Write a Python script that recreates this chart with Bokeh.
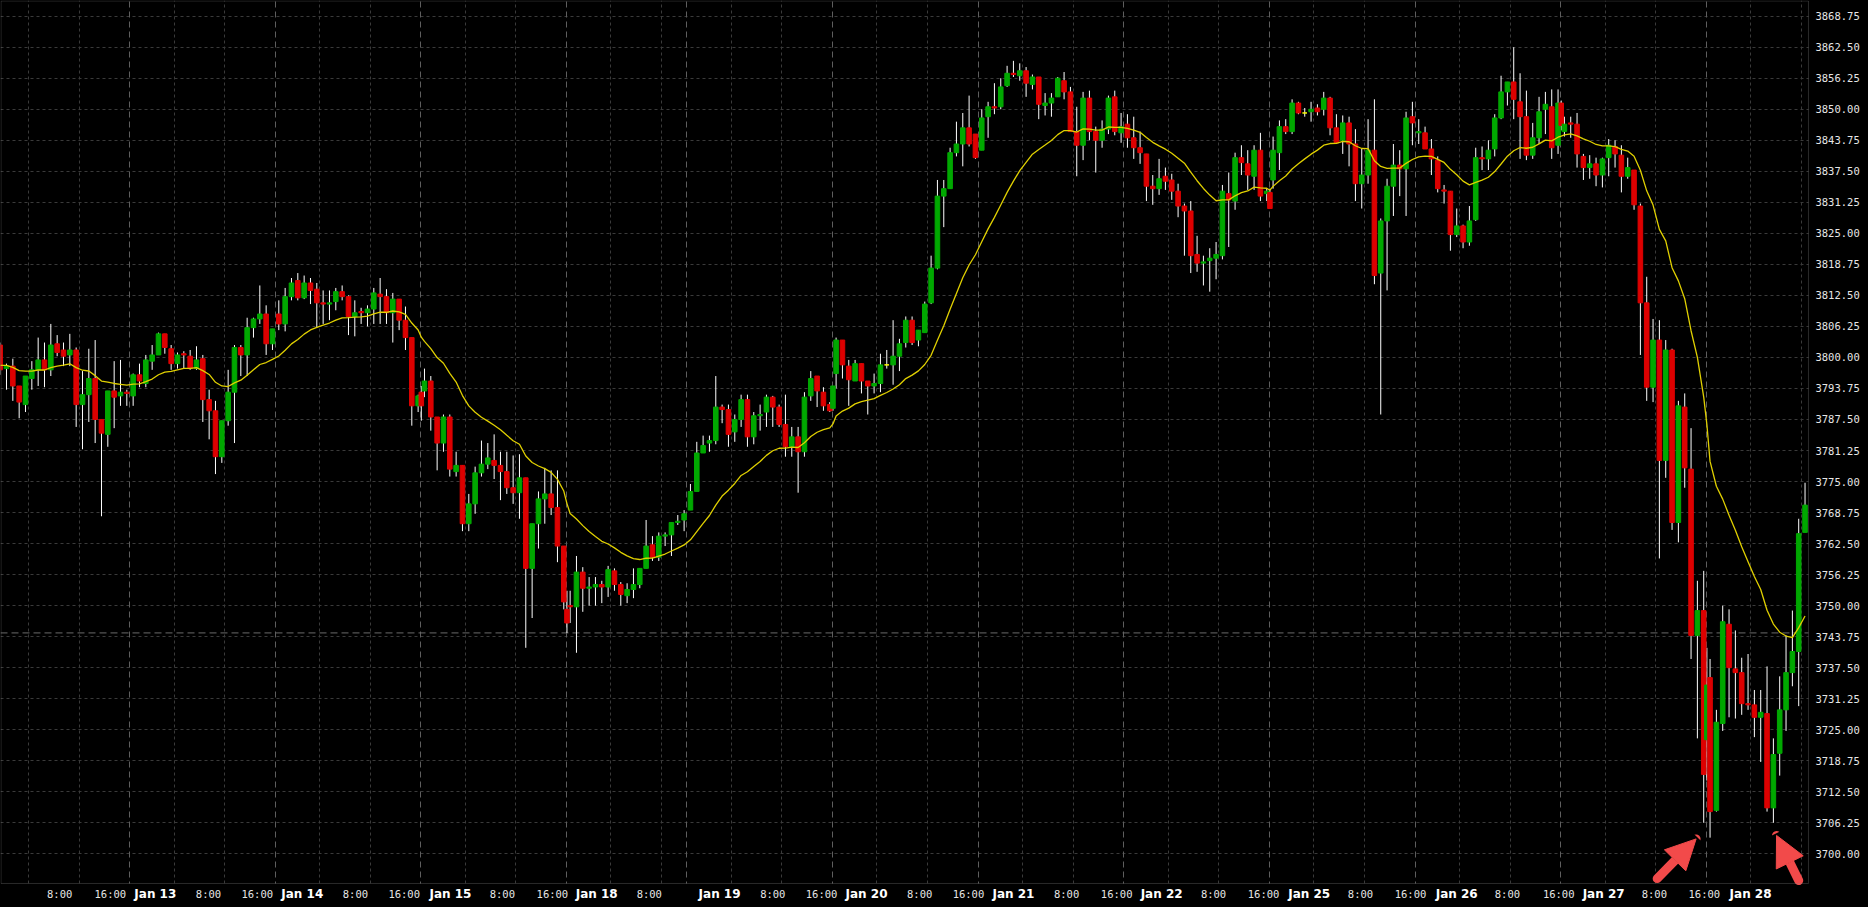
import numpy as np
from bokeh.plotting import figure
from bokeh.models import (ColumnDataSource, Range1d, FixedTicker, Span, LabelSet, Arrow,
                          NormalHead, Grid, BoxAnnotation)
from bokeh.embed import file_html
from bokeh.resources import INLINE
from bokeh.core.properties import value

# ---------------- data (hourly ES bars, slot = bar index on the time axis) -------------
first_slot = -1
bar_open = [
    3802.5, 3797.75, 3798.25, 3794.25, 3790.5, 3795.75, 3797.5, 3799.5, 3797.5, 3802.75,
    3801.5, 3800.5, 3801.5, 3790.5, 3792.5, 3795.75, 3787.5, 3784.5, 3793.25, 3792.25,
    3793.0, 3792.25, 3796.5, 3794.75, 3799.25, 3800.5, 3804.75, 3801.75, 3798.75, 3800.75,
    3800.25, 3797.75, 3799.75, 3791.5, 3789.25, 3780.0, 3787.25, 3793.0, 3802.0, 3800.5,
    3806.0, 3807.75, 3808.75, 3802.75, 3808.75, 3806.75, 3812.25, 3815.5, 3812.0, 3815.0,
    3813.75, 3811.0, 3810.75, 3811.25, 3813.25, 3812.25, 3808.25, 3809.25, 3809.0, 3809.75,
    3812.75, 3812.25, 3809.0, 3811.75, 3807.5, 3804.0, 3790.25, 3793.25, 3795.25, 3788.0,
    3782.75, 3788.0, 3777.0, 3778.25, 3766.5, 3770.5, 3776.75, 3778.5, 3779.25, 3778.25,
    3777.0, 3773.75, 3772.75, 3775.75, 3757.5, 3766.5, 3771.5, 3772.5, 3769.75, 3762.0,
    3750.0, 3749.75, 3756.75, 3753.5, 3753.75, 3754.25, 3753.75, 3757.0, 3754.25, 3752.0,
    3753.25, 3754.25, 3757.5, 3762.25, 3759.75, 3764.0, 3764.25, 3766.75, 3767.25, 3769.25,
    3773.0, 3780.75, 3782.75, 3783.25, 3790.0, 3789.5, 3785.0, 3787.5, 3791.5, 3784.0,
    3788.25, 3789.0, 3792.0, 3790.0, 3786.5, 3782.0, 3784.0, 3781.0, 3792.25, 3796.25,
    3793.0, 3790.5, 3796.75, 3803.5, 3798.25, 3795.25, 3798.75, 3795.25, 3794.25, 3794.75,
    3798.5, 3798.5, 3800.25, 3803.0, 3807.5, 3803.5, 3805.0, 3811.0, 3818.0, 3832.5,
    3834.0, 3841.25, 3843.0, 3846.25, 3845.0, 3841.75, 3848.5, 3850.5, 3850.5, 3854.75,
    3857.25, 3856.75, 3857.75, 3855.0, 3856.5, 3850.75, 3851.25, 3852.5, 3855.75, 3853.5,
    3845.5, 3842.75, 3852.25, 3845.5, 3843.75, 3846.0, 3852.5, 3845.25, 3847.0, 3844.25,
    3842.25, 3841.0, 3834.5, 3834.0, 3836.5, 3835.75, 3833.5, 3830.5, 3829.5, 3820.75,
    3819.0, 3819.5, 3820.0, 3820.5, 3833.0, 3831.5, 3840.25, 3839.0, 3836.5, 3841.75,
    3833.0, 3835.75, 3841.25, 3846.5, 3845.5, 3851.25, 3849.25, 3849.5, 3850.25, 3850.0,
    3852.25, 3846.25, 3843.75, 3847.25, 3843.0, 3835.0, 3836.75, 3841.75, 3817.0, 3827.5,
    3834.5, 3838.75, 3838.0, 3848.5, 3845.25, 3845.25, 3842.0, 3839.75, 3833.75, 3833.5,
    3824.75, 3826.5, 3823.25, 3827.75, 3840.25, 3840.0, 3842.0, 3848.25, 3853.5, 3855.5,
    3851.5, 3848.5, 3840.75, 3844.25, 3850.0, 3850.5, 3842.75, 3845.5, 3847.25, 3847.0,
    3840.5, 3838.25, 3839.0, 3836.75, 3840.25, 3842.5, 3840.75, 3836.5, 3837.75, 3830.5,
    3811.0, 3794.0, 3803.5, 3779.25, 3801.5, 3766.75, 3790.0, 3777.5, 3744.0, 3749.0,
    3735.5, 3708.75, 3726.25, 3746.25, 3737.25, 3736.5, 3730.25, 3730.0, 3727.5, 3728.25,
    3709.25, 3720.25, 3729.0, 3736.5, 3740.75, 3764.75,
]
bar_high = [
    3803.0, 3798.75, 3799.75, 3794.25, 3796.25, 3799.25, 3804.0, 3803.0, 3806.75, 3804.5,
    3803.0, 3804.75, 3802.0, 3797.25, 3801.75, 3803.5, 3787.5, 3793.25, 3799.25, 3799.5,
    3793.5, 3796.75, 3798.75, 3800.5, 3802.5, 3805.0, 3804.75, 3802.5, 3801.0, 3801.25,
    3801.5, 3802.25, 3800.5, 3793.5, 3791.25, 3787.25, 3797.5, 3802.5, 3802.5, 3808.0,
    3808.0, 3814.5, 3810.5, 3805.75, 3811.5, 3814.0, 3816.0, 3817.0, 3816.5, 3816.0,
    3815.0, 3813.5, 3813.5, 3814.0, 3814.5, 3812.5, 3811.5, 3810.0, 3810.5, 3814.0,
    3816.0, 3813.75, 3813.0, 3811.75, 3810.25, 3804.0, 3792.5, 3797.75, 3796.25, 3788.0,
    3788.5, 3788.5, 3781.0, 3778.25, 3772.5, 3778.0, 3783.25, 3782.75, 3784.5, 3781.0,
    3781.0, 3780.25, 3780.5, 3775.75, 3766.5, 3773.0, 3777.75, 3777.25, 3777.25, 3762.0,
    3753.0, 3760.0, 3757.75, 3755.75, 3755.75, 3755.0, 3758.0, 3757.5, 3754.75, 3754.5,
    3757.5, 3757.5, 3767.25, 3764.0, 3764.75, 3764.75, 3766.75, 3768.25, 3769.25, 3774.5,
    3783.0, 3784.25, 3784.25, 3796.25, 3790.5, 3790.5, 3788.5, 3792.5, 3792.5, 3789.0,
    3790.5, 3792.5, 3792.25, 3790.5, 3792.5, 3786.0, 3786.0, 3793.0, 3797.25, 3796.25,
    3794.0, 3791.0, 3804.0, 3803.5, 3799.5, 3799.5, 3798.75, 3795.25, 3796.75, 3800.75,
    3801.5, 3807.5, 3803.75, 3808.25, 3808.25, 3805.5, 3811.25, 3820.5, 3835.75, 3835.75,
    3842.25, 3847.5, 3849.25, 3852.75, 3845.0, 3850.0, 3851.5, 3855.25, 3856.25, 3858.75,
    3859.75, 3859.25, 3858.5, 3857.0, 3856.5, 3853.25, 3853.25, 3856.5, 3857.5, 3854.5,
    3850.5, 3853.5, 3853.75, 3846.5, 3847.75, 3852.75, 3853.75, 3849.25, 3849.0, 3848.5,
    3845.5, 3841.0, 3836.75, 3840.0, 3838.25, 3837.0, 3835.0, 3831.0, 3831.5, 3824.5,
    3820.5, 3822.0, 3823.25, 3834.75, 3837.25, 3841.25, 3842.75, 3841.75, 3842.75, 3845.25,
    3834.0, 3844.5, 3847.75, 3848.0, 3852.0, 3851.5, 3850.25, 3851.5, 3851.0, 3853.5,
    3852.5, 3849.0, 3848.75, 3848.5, 3846.0, 3842.0, 3848.0, 3852.0, 3828.0, 3836.0,
    3843.0, 3841.75, 3849.5, 3851.5, 3848.0, 3846.5, 3844.0, 3840.5, 3834.75, 3833.5,
    3830.0, 3826.75, 3830.5, 3842.25, 3842.5, 3843.75, 3849.0, 3856.75, 3855.5, 3862.5,
    3857.25, 3853.75, 3847.25, 3852.5, 3853.5, 3854.0, 3854.0, 3848.5, 3848.5, 3849.25,
    3841.0, 3840.75, 3840.25, 3840.25, 3844.0, 3843.75, 3842.75, 3840.25, 3837.75, 3831.0,
    3816.25, 3807.75, 3807.5, 3803.5, 3801.75, 3791.25, 3792.75, 3785.75, 3755.0, 3757.0,
    3739.25, 3729.0, 3750.0, 3749.25, 3745.0, 3739.5, 3740.25, 3733.0, 3733.0, 3737.75,
    3723.25, 3735.75, 3744.0, 3749.0, 3767.5, 3774.75,
]
bar_low = [
    3796.5, 3793.5, 3791.25, 3787.75, 3789.0, 3793.5, 3794.25, 3794.0, 3796.25, 3800.25,
    3798.25, 3798.25, 3786.0, 3781.5, 3787.0, 3782.75, 3768.0, 3782.0, 3785.75, 3790.25,
    3790.25, 3790.25, 3794.0, 3794.0, 3797.5, 3800.5, 3800.75, 3797.5, 3797.75, 3797.75,
    3797.5, 3797.5, 3787.0, 3783.5, 3776.5, 3778.75, 3786.25, 3782.75, 3796.25, 3796.25,
    3804.0, 3806.75, 3800.5, 3801.5, 3805.5, 3805.25, 3811.5, 3811.5, 3811.75, 3810.75,
    3806.0, 3806.75, 3807.5, 3809.5, 3811.5, 3804.5, 3804.25, 3806.75, 3806.25, 3806.75,
    3806.75, 3806.75, 3803.0, 3805.5, 3801.5, 3786.25, 3789.0, 3792.0, 3785.25, 3777.25,
    3781.0, 3776.0, 3776.0, 3765.0, 3765.0, 3768.5, 3776.0, 3777.5, 3775.5, 3771.25,
    3772.5, 3770.5, 3767.5, 3741.5, 3747.5, 3761.5, 3766.5, 3768.25, 3758.75, 3749.25,
    3746.5, 3740.5, 3748.75, 3750.0, 3750.0, 3750.5, 3751.75, 3753.0, 3750.0, 3750.5,
    3751.5, 3753.5, 3757.5, 3759.0, 3759.0, 3762.0, 3760.0, 3766.25, 3765.0, 3769.25,
    3773.0, 3780.75, 3781.0, 3782.5, 3786.75, 3782.0, 3783.0, 3786.0, 3782.0, 3782.5,
    3785.25, 3786.0, 3786.0, 3786.0, 3780.0, 3780.0, 3772.75, 3780.0, 3791.25, 3790.0,
    3789.25, 3789.0, 3793.75, 3795.75, 3790.25, 3795.25, 3792.75, 3788.5, 3792.75, 3793.0,
    3797.75, 3794.5, 3797.25, 3802.0, 3802.5, 3802.25, 3805.0, 3810.75, 3817.75, 3826.25,
    3834.0, 3840.5, 3838.5, 3842.5, 3840.0, 3841.75, 3844.25, 3849.0, 3850.0, 3854.5,
    3856.5, 3855.75, 3852.5, 3854.0, 3848.0, 3848.75, 3848.5, 3852.5, 3852.0, 3845.5,
    3836.5, 3839.75, 3843.75, 3837.25, 3842.25, 3845.0, 3844.75, 3843.25, 3842.25, 3840.0,
    3839.0, 3831.5, 3830.75, 3832.75, 3833.75, 3831.75, 3828.25, 3820.5, 3817.0, 3817.25,
    3814.5, 3813.25, 3815.75, 3819.75, 3822.25, 3829.75, 3836.75, 3833.75, 3833.75, 3831.5,
    3831.5, 3834.0, 3837.75, 3845.0, 3845.0, 3849.0, 3848.5, 3847.5, 3848.75, 3848.75,
    3844.75, 3843.0, 3841.0, 3838.5, 3831.5, 3830.0, 3835.0, 3814.75, 3788.5, 3813.5,
    3828.5, 3832.5, 3828.5, 3842.75, 3843.0, 3842.0, 3836.75, 3833.25, 3831.0, 3821.5,
    3824.25, 3822.0, 3822.5, 3827.5, 3837.75, 3837.75, 3840.5, 3848.0, 3850.75, 3848.0,
    3840.0, 3839.75, 3840.0, 3843.0, 3845.0, 3840.0, 3841.0, 3844.5, 3844.25, 3838.25,
    3835.75, 3836.0, 3834.5, 3834.25, 3836.5, 3838.25, 3833.25, 3836.0, 3829.75, 3800.5,
    3791.25, 3791.0, 3759.5, 3775.75, 3765.25, 3762.75, 3773.75, 3739.25, 3723.25, 3706.25,
    3703.25, 3708.5, 3724.75, 3727.5, 3727.25, 3728.0, 3729.0, 3723.5, 3718.5, 3708.5,
    3706.25, 3715.75, 3724.75, 3733.75, 3729.75, 3764.75,
]
bar_close = [
    3797.5, 3798.25, 3794.25, 3791.0, 3796.25, 3797.5, 3799.5, 3797.5, 3802.5, 3801.0,
    3800.25, 3801.5, 3790.5, 3792.5, 3795.75, 3787.5, 3784.75, 3793.25, 3792.0, 3793.0,
    3792.75, 3796.5, 3795.25, 3799.5, 3800.5, 3804.75, 3802.0, 3798.75, 3800.5, 3800.5,
    3797.75, 3799.5, 3791.5, 3789.25, 3780.0, 3787.25, 3793.0, 3802.0, 3800.5, 3806.0,
    3807.75, 3808.75, 3802.75, 3805.75, 3806.75, 3812.25, 3815.0, 3812.0, 3815.0, 3813.5,
    3811.0, 3810.75, 3811.0, 3813.25, 3812.25, 3808.25, 3809.0, 3809.0, 3809.75, 3813.0,
    3812.25, 3809.0, 3811.75, 3807.5, 3804.0, 3790.25, 3792.25, 3795.25, 3788.0, 3782.75,
    3788.0, 3777.5, 3778.25, 3766.5, 3770.5, 3776.75, 3778.5, 3779.75, 3778.25, 3777.0,
    3773.75, 3772.75, 3775.75, 3757.5, 3766.5, 3771.5, 3772.5, 3769.75, 3762.0, 3750.75,
    3749.75, 3756.75, 3753.5, 3753.75, 3754.25, 3753.75, 3757.25, 3754.25, 3752.25, 3753.25,
    3754.25, 3757.5, 3762.0, 3759.75, 3764.0, 3764.25, 3766.75, 3767.0, 3768.5, 3773.0,
    3780.75, 3782.25, 3783.25, 3790.0, 3789.5, 3784.5, 3787.5, 3791.5, 3784.0, 3788.25,
    3788.5, 3792.0, 3790.0, 3786.5, 3782.0, 3784.0, 3781.0, 3792.0, 3795.75, 3793.25,
    3790.25, 3789.25, 3803.5, 3798.5, 3795.5, 3798.75, 3795.25, 3794.25, 3794.75, 3798.5,
    3798.5, 3800.25, 3802.75, 3807.5, 3803.0, 3805.5, 3810.75, 3818.0, 3832.5, 3834.0,
    3841.25, 3843.0, 3846.25, 3843.0, 3840.25, 3848.25, 3850.5, 3850.25, 3854.5, 3857.25,
    3857.0, 3857.75, 3855.25, 3856.5, 3851.0, 3851.25, 3852.25, 3856.25, 3853.5, 3845.5,
    3842.75, 3852.25, 3845.5, 3843.75, 3846.0, 3852.25, 3845.5, 3846.5, 3844.25, 3842.25,
    3841.25, 3834.5, 3834.0, 3836.0, 3835.5, 3833.5, 3830.5, 3829.5, 3820.5, 3819.0,
    3819.25, 3820.0, 3820.75, 3833.5, 3831.75, 3840.25, 3839.25, 3836.75, 3841.75, 3832.5,
    3833.5, 3841.75, 3846.5, 3845.5, 3851.25, 3849.25, 3849.25, 3850.0, 3849.5, 3852.25,
    3846.25, 3843.25, 3847.25, 3843.0, 3835.0, 3836.75, 3841.75, 3816.5, 3827.5, 3834.5,
    3838.75, 3838.0, 3848.25, 3847.25, 3845.5, 3842.0, 3840.0, 3834.0, 3833.5, 3824.75,
    3826.5, 3823.25, 3827.5, 3840.25, 3840.0, 3841.75, 3848.25, 3853.5, 3855.5, 3852.0,
    3848.5, 3840.75, 3844.25, 3849.5, 3851.0, 3842.25, 3851.25, 3847.0, 3847.0, 3841.0,
    3838.25, 3839.0, 3836.75, 3840.0, 3842.75, 3841.0, 3836.5, 3838.25, 3830.75, 3811.0,
    3794.0, 3803.5, 3779.25, 3801.5, 3766.75, 3790.25, 3777.75, 3744.0, 3749.0, 3716.0,
    3708.5, 3726.5, 3746.75, 3737.5, 3736.5, 3730.25, 3730.0, 3727.5, 3728.5, 3709.25,
    3720.0, 3729.0, 3736.5, 3740.75, 3764.5, 3770.25,
]

# short bars printed after the daily halt (sit half a slot after the 16:00 bar)
halt_slot = [65.5, 88.5, 130.5, 199.5, 245.5, 268.5]
halt_open = [3793.0, 3749.25, 3789.75, 3833.25, 3851.25, 3723.0]
halt_high = [3794.25, 3753.0, 3794.25, 3834.0, 3851.75, 3741.5]
halt_low = [3787.25, 3744.5, 3789.25, 3830.0, 3845.75, 3714.75]
halt_close = [3790.25, 3746.5, 3794.25, 3830.0, 3846.75, 3734.0]

ma_period = 20          # exponential moving average of the closes
ma_seed = 3798.5        # average level just before the first visible bar

y_tick_values = [3700.00, 3706.25, 3712.50, 3718.75, 3725.00, 3731.25, 3737.50,
                 3743.75, 3750.00, 3756.25, 3762.50, 3768.75, 3775.00, 3781.25,
                 3787.50, 3793.75, 3800.00, 3806.25, 3812.50, 3818.75, 3825.00,
                 3831.25, 3837.50, 3843.75, 3850.00, 3856.25, 3862.50, 3868.75]

time_label_slots = [8.4, 16.4, 31.9, 39.6, 55.1, 62.8, 78.3, 86.2, 101.5, 121.0, 128.7,
                    144.2, 151.9, 167.4, 175.3, 190.6, 198.5, 213.8, 221.7, 237.0,
                    245.1, 260.2, 268.1]
time_label_text = ["8:00", "16:00", "8:00", "16:00", "8:00", "16:00", "8:00", "16:00",
                   "8:00", "8:00", "16:00", "8:00", "16:00", "8:00", "16:00", "8:00",
                   "16:00", "8:00", "16:00", "8:00", "16:00", "8:00", "16:00"]
date_label_slots = [23.5, 46.7, 70.1, 93.2, 112.6, 135.8, 159.0, 182.4, 205.7, 229.0,
                    252.2, 275.4]
date_label_text = ["Jan 13", "Jan 14", "Jan 15", "Jan 18", "Jan 19", "Jan 20", "Jan 21",
                   "Jan 22", "Jan 25", "Jan 26", "Jan 27", "Jan 28"]

grid_slots_hours = [3, 11, 26, 34, 49, 57, 72, 80, 95, 103, 114, 122, 137, 145, 160, 168,
                    183, 191, 206, 214, 229, 237, 252, 260, 275, 283]
grid_slots_session = [19, 42, 65, 88, 107, 130, 153, 176, 199, 222, 245, 268]

ref_level = 3744.5      # dashed reference price line

# annotation arrows (slot, price) tail -> tip
arrow_a = (260.65, 3695.0, 266.8, 3703.0)
arrow_b = (283.0, 3694.6, 279.5, 3703.7)

# ---------------- view / layout -----------------------------------------------------
X_VIEW = (-0.947, 294.02)      # whole canvas width in slots
Y_VIEW = (3689.18, 3871.91)    # whole canvas height in price
PANE_LEFT = -0.868             # left border of the price pane
PANE_TOP = 3871.81             # top border of the price pane
PLOT_RIGHT = 284.54            # right edge of the price pane (axis line)
PLOT_BOTTOM = 3694.02          # bottom edge of the price pane (axis line)

GREEN = "#00A800"
RED = "#DD0000"
DOJI = "#FFFF00"
BG = "#000000"
GRID = "#3A3A3A"
AXIS = "#8A8A8A"
TXT = "#E6E6E6"

n = len(bar_open)
slot = np.concatenate([np.arange(first_slot, first_slot + n, dtype=float), halt_slot])
o = np.concatenate([bar_open, halt_open])
h = np.concatenate([bar_high, halt_high])
l = np.concatenate([bar_low, halt_low])
c = np.concatenate([bar_close, halt_close])
order = np.argsort(slot, kind="stable")
slot, o, h, l, c = slot[order], o[order], h[order], l[order], c[order]

colors = np.where(c > o, GREEN, np.where(c < o, RED, DOJI))
src = ColumnDataSource(dict(x=slot, o=o, h=h, l=l, c=c,
                            top=np.maximum(o, c), bottom=np.minimum(o, c), color=colors))

alpha = 2.0 / (ma_period + 1)
ema = []
e = ma_seed
for v in c:
    e = e + alpha * (v - e)
    ema.append(e)

p = figure(width=1868, height=907,
           x_range=Range1d(*X_VIEW), y_range=Range1d(*Y_VIEW),
           x_axis_location=None, y_axis_location=None,
           output_backend="svg", toolbar_location=None,
           background_fill_color=BG, border_fill_color=BG, outline_line_color=None,
           min_border=0)

# grids
p.xgrid.visible = False
p.ygrid.ticker = FixedTicker(ticks=y_tick_values)
p.ygrid.grid_line_color = GRID
p.ygrid.grid_line_dash = "3 3"
p.ygrid.grid_line_width = 1

GRID_OFFSET = 0.45
p.add_layout(Grid(dimension=0,
                  ticker=FixedTicker(ticks=[s + GRID_OFFSET for s in grid_slots_hours]),
                  grid_line_color=GRID, grid_line_dash="3 3", grid_line_width=1))
p.add_layout(Grid(dimension=0,
                  ticker=FixedTicker(ticks=[s + GRID_OFFSET for s in grid_slots_session]),
                  grid_line_color="#5E5E5E", grid_line_dash="6 4", grid_line_width=1))
p.add_layout(Span(location=ref_level, dimension="width", line_color="#6A6A6A",
                  line_dash="7 4", line_width=1, level="underlay"))

# blank the axis strips (right price scale and bottom time scale)
p.add_layout(BoxAnnotation(left=PLOT_RIGHT, fill_color=BG, fill_alpha=1.0,
                           line_color=None, level="underlay"))
p.add_layout(BoxAnnotation(top=PLOT_BOTTOM, fill_color=BG, fill_alpha=1.0,
                           line_color=None, level="underlay"))

# candles
p.segment(x0="x", y0="l", x1="x", y1="h", source=src, line_color="#FFFFFF", line_width=1)
p.vbar(x="x", width=0.72, top="top", bottom="bottom", source=src,
       fill_color="color", line_color="color", line_width=1)

# moving average
p.line(slot, ema, line_color="#E0D000", line_width=1.3)

# price pane border (axis lines)
p.add_layout(BoxAnnotation(left=PANE_LEFT, right=PLOT_RIGHT,
                           bottom=PLOT_BOTTOM, top=PANE_TOP,
                           fill_alpha=0.0, line_color=AXIS, line_width=1, level="overlay"))

# price scale labels
ysrc = ColumnDataSource(dict(y=y_tick_values, t=["%.2f" % v for v in y_tick_values]))
p.add_layout(LabelSet(x=PLOT_RIGHT, y="y", text="t", source=ysrc, x_offset=7,
                      text_align="left", text_baseline="middle",
                      text_font=value("DejaVu Sans Mono"), text_font_size="10.5px",
                      text_color=TXT))

# time scale labels
tsrc = ColumnDataSource(dict(x=time_label_slots, t=time_label_text))
dsrc = ColumnDataSource(dict(x=date_label_slots, t=date_label_text))
p.add_layout(LabelSet(x="x", y=PLOT_BOTTOM, y_offset=-11, text="t", source=tsrc,
                      text_align="center", text_baseline="middle",
                      text_font=value("DejaVu Sans Mono"), text_font_size="10.5px",
                      text_color=TXT))
p.add_layout(LabelSet(x="x", y=PLOT_BOTTOM, y_offset=-11, text="t", source=dsrc,
                      text_align="center", text_baseline="middle",
                      text_font=value("DejaVu Sans"), text_font_style="bold",
                      text_font_size="12px", text_color="#FFFFFF"))

# arrows
ARROW = "#F24A4A"
for (x0, y0, x1, y1) in (arrow_a, arrow_b):
    p.add_layout(Arrow(end=NormalHead(size=30, fill_color=ARROW, line_color=ARROW),
                       x_start=x0, y_start=y0, x_end=x1, y_end=y1,
                       line_color=ARROW, line_width=9, line_cap="round"))

html = file_html(p, INLINE)
html = html.replace(
    "<head>",
    "<head><style>html,body{margin:0;padding:0;background:#000000;overflow:hidden;}</style>",
    1)
open("out.html", "w").write(html)
